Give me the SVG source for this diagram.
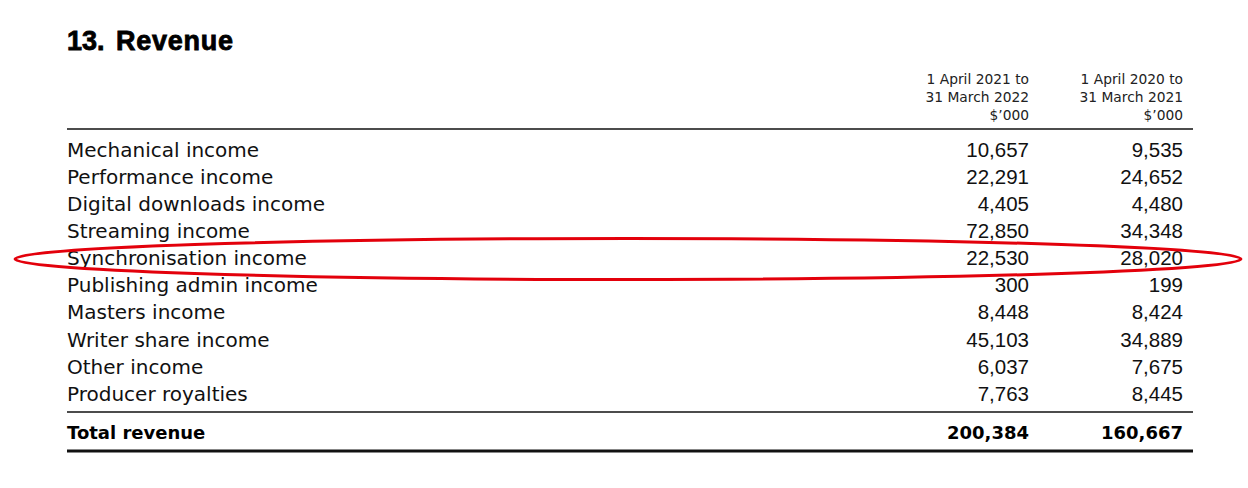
<svg xmlns="http://www.w3.org/2000/svg" width="1248" height="488" viewBox="0 0 1248 488">
<style>
.lbl{font-family:"DejaVu Sans",sans-serif;font-size:20px;fill:#111}
.num{font-family:"Liberation Sans",Arial,sans-serif;font-size:20.5px;fill:#111;text-anchor:end}
.hdr{font-family:"DejaVu Sans",sans-serif;font-size:13.8px;fill:#222;text-anchor:end}
.bold{font-family:"DejaVu Sans",sans-serif;font-size:18px;font-weight:bold;fill:#000}
.boldn{font-family:"DejaVu Sans",sans-serif;font-size:18px;font-weight:bold;fill:#000;text-anchor:end}
.title{font-family:"Liberation Sans",Arial,sans-serif;font-size:27px;font-weight:bold;fill:#000;stroke:#000;stroke-width:0.8}
</style>
<rect width="1248" height="488" fill="#fff"/>
<g id="title">
<text class="title" x="67" y="50">13.</text>
<text class="title" x="116" y="50" textLength="117">Revenue</text>
</g>
<g id="header">
<text class="hdr" x="1029" y="84">1 April 2021 to</text>
<text class="hdr" x="1029" y="102">31 March 2022</text>
<text class="hdr" x="1029" y="120">$’000</text>
<text class="hdr" x="1183" y="84">1 April 2020 to</text>
<text class="hdr" x="1183" y="102">31 March 2021</text>
<text class="hdr" x="1183" y="120">$’000</text>
</g>
<g id="rules" stroke="#111">
<line x1="67" y1="129" x2="1193" y2="129" stroke-width="1.3"/>
<line x1="67" y1="412" x2="1193" y2="412" stroke-width="1.5"/>
<line x1="67" y1="451" x2="1193" y2="451" stroke-width="3"/>
</g>
<g id="rows">
<text class="lbl" x="67" y="157">Mechanical income</text>
<text class="num" x="1029" y="157">10,657</text>
<text class="num" x="1183" y="157">9,535</text>
<text class="lbl" x="67" y="184">Performance income</text>
<text class="num" x="1029" y="184">22,291</text>
<text class="num" x="1183" y="184">24,652</text>
<text class="lbl" x="67" y="211">Digital downloads income</text>
<text class="num" x="1029" y="211">4,405</text>
<text class="num" x="1183" y="211">4,480</text>
<text class="lbl" x="67" y="238">Streaming income</text>
<text class="num" x="1029" y="238">72,850</text>
<text class="num" x="1183" y="238">34,348</text>
<text class="lbl" x="67" y="265">Synchronisation income</text>
<text class="num" x="1029" y="265">22,530</text>
<text class="num" x="1183" y="265">28,020</text>
<text class="lbl" x="67" y="292">Publishing admin income</text>
<text class="num" x="1029" y="292">300</text>
<text class="num" x="1183" y="292">199</text>
<text class="lbl" x="67" y="319">Masters income</text>
<text class="num" x="1029" y="319">8,448</text>
<text class="num" x="1183" y="319">8,424</text>
<text class="lbl" x="67" y="347">Writer share income</text>
<text class="num" x="1029" y="347">45,103</text>
<text class="num" x="1183" y="347">34,889</text>
<text class="lbl" x="67" y="374">Other income</text>
<text class="num" x="1029" y="374">6,037</text>
<text class="num" x="1183" y="374">7,675</text>
<text class="lbl" x="67" y="401">Producer royalties</text>
<text class="num" x="1029" y="401">7,763</text>
<text class="num" x="1183" y="401">8,445</text>
</g>
<g id="total">
<text class="bold" x="67" y="439">Total revenue</text>
<text class="boldn" x="1029" y="439">200,384</text>
<text class="boldn" x="1183" y="439">160,667</text>
</g>
<ellipse id="highlight" cx="628" cy="259" rx="613" ry="20.5" fill="none" stroke="#e3000b" stroke-width="3"/>
</svg>
